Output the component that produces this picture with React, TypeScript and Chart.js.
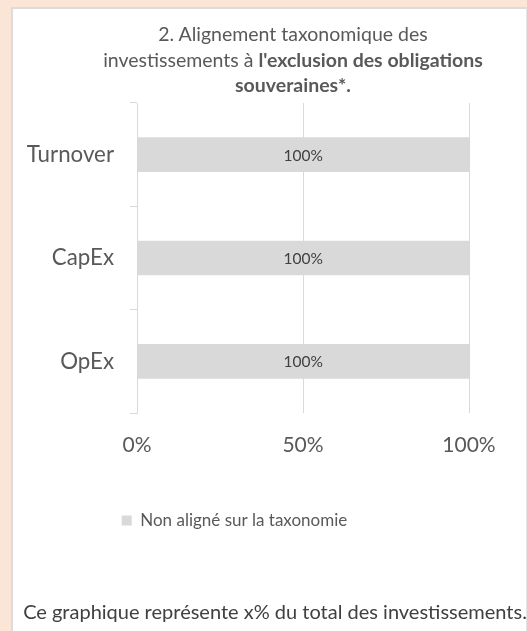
import React, { useEffect, useRef } from "react";
import { Chart, registerables } from "chart.js";

Chart.register(...registerables);

const categories = ["Turnover", "CapEx", "OpEx"];
const nonAligned = [100, 100, 100];
const seriesLabel = "Non aligné sur la taxonomie";
const xMin = 0;
const xMax = 100;
const xStep = 50;

const FONT = "Lato, 'Open Sans', sans-serif";
const TEXT = "#595959";
const GRID = "#d9d9d9";
const BAR = "#d9d9d9";

const dataLabelPlugin = {
  id: "barValueLabels",
  afterDatasetsDraw(chart: any) {
    const ctx = chart.ctx;
    chart.data.datasets.forEach((ds: any, di: number) => {
      const meta = chart.getDatasetMeta(di);
      meta.data.forEach((bar: any, i: number) => {
        const v = ds.data[i];
        ctx.save();
        ctx.font = `15.5px ${FONT}`;
        ctx.fillStyle = "#404040";
        ctx.textAlign = "center";
        ctx.textBaseline = "middle";
        ctx.fillText(`${v}%`, (bar.x + bar.base) / 2, bar.y + 1);
        ctx.restore();
      });
    });
  },
};

export default function App() {
  const ref = useRef<HTMLCanvasElement | null>(null);

  useEffect(() => {
    if (!ref.current) return;
    const chart = new Chart(ref.current, {
      type: "bar",
      data: {
        labels: categories,
        datasets: [
          {
            label: seriesLabel,
            data: nonAligned,
            backgroundColor: BAR,
            borderWidth: 0,
            barPercentage: 0.335,
            categoryPercentage: 1,
          },
        ],
      },
      plugins: [dataLabelPlugin],
      options: {
        indexAxis: "y",
        responsive: false,
        animation: false,
        devicePixelRatio: 1,
        layout: { padding: { left: 0, right: 58, top: 103, bottom: 92 } },
        scales: {
          y: {
            offset: true,
            grid: {
              offset: true,
              drawOnChartArea: false,
              drawTicks: true,
              tickLength: 7,
              color: GRID,
              lineWidth: 1,
            },
            border: { display: true, color: GRID, width: 1 },
            ticks: {
              color: TEXT,
              font: { family: FONT, size: 22.3 },
              padding: 16,
            },
            afterFit: (s: any) => {
              s.width = 137;
            },
          },
          x: {
            min: xMin,
            max: xMax,
            grid: { color: GRID, lineWidth: 1, drawTicks: false },
            border: { display: false },
            ticks: {
              stepSize: xStep,
              color: TEXT,
              font: { family: FONT, size: 21 },
              padding: 20,
              callback: (v: any) => `${v}%`,
            },
            afterFit: (s: any) => {
              s.height = 89;
            },
          },
        },
        plugins: {
          legend: {
            display: true,
            position: "bottom",
            labels: {
              boxWidth: 10,
              boxHeight: 10,
              padding: 10,
              color: TEXT,
              font: { family: FONT, size: 17 },
            },
          },
          title: { display: false },
          tooltip: { enabled: false },
        },
      },
    } as any);
    return () => chart.destroy();
  }, []);

  return (
    <div
      style={{
        position: "fixed",
        left: 0,
        top: 0,
        width: 527,
        height: 631,
        background: "#FBE5D6",
        overflow: "hidden",
        fontFamily: FONT,
      }}
    >
      <div
        style={{
          position: "absolute",
          left: 11,
          top: 7,
          width: 513,
          height: 700,
          background: "#ffffff",
          borderLeft: "2px solid #dcdcdc",
          borderTop: "2px solid #dcdcdc",
          borderRight: "1px solid #e4e4e4",
        }}
      />
      <canvas
        ref={ref}
        width={527}
        height={631}
        style={{ position: "absolute", left: 0, top: 0, width: 527, height: 631 }}
      />
      <div
        style={{
          position: "absolute",
          left: 43,
          top: 21,
          width: 500,
          textAlign: "center",
          fontSize: 19.5,
          lineHeight: "25.5px",
          color: TEXT,
          whiteSpace: "nowrap",
        }}
      >
        2. Alignement taxonomique des
        <br />
        investissements à <b>l'exclusion des obligations</b>
        <br />
        <b>souveraines*.</b>
      </div>
      <div
        style={{
          position: "absolute",
          left: 19,
          top: 599,
          width: 512,
          textAlign: "center",
          fontSize: 20,
          lineHeight: "24px",
          color: "#404040",
          whiteSpace: "nowrap",
        }}
      >
        Ce graphique représente x% du total des investissements.
      </div>
    </div>
  );
}
